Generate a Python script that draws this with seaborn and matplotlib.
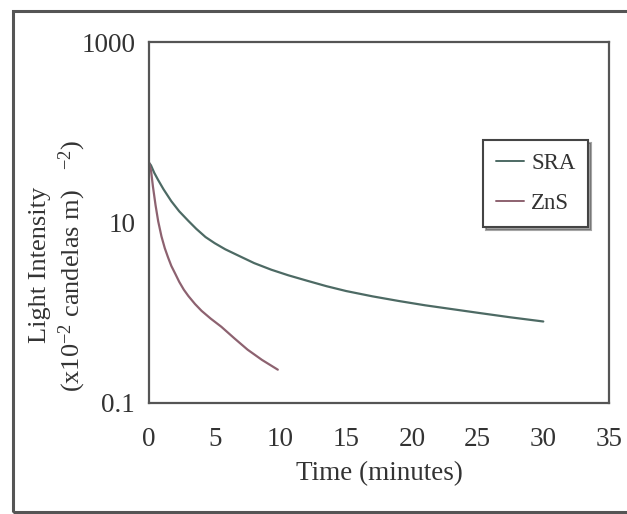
import numpy as np
import pandas as pd
import matplotlib
matplotlib.use("Agg")
import matplotlib.pyplot as plt
from matplotlib.patches import Rectangle
import seaborn as sns

# ---- data ----
sra_time = [0, 0.15, 0.4, 0.7, 1.1, 1.7, 2.3, 3.0, 3.6, 4.3, 5.0, 5.8, 6.8, 8.0, 9.3, 10.6,
            12.0, 13.5, 15.0, 17.0, 19.0, 21.0, 23.0, 25.0, 27.5, 30.0]
sra_value = [46, 43, 35.5, 29.5, 23.4, 17.2, 13.3, 10.4, 8.5, 6.9, 5.9, 5.05, 4.3, 3.55, 3.0, 2.6,
             2.27, 1.97, 1.74, 1.52, 1.35, 1.21, 1.10, 1.0, 0.89, 0.80]
zns_time = [0, 0.15, 0.3, 0.5, 0.7, 0.95, 1.2, 1.45, 1.7, 2.0, 2.3, 2.65, 3.0, 3.5, 4.0,
            4.7, 5.5, 6.5, 7.5, 8.6, 9.8]
zns_value = [46, 38, 25, 15.5, 10.3, 7.0, 5.2, 4.1, 3.3, 2.7, 2.2, 1.8, 1.53, 1.25, 1.05,
             0.86, 0.70, 0.52, 0.39, 0.30, 0.234]
series_names = ["SRA", "ZnS"]
x_ticks = [0, 5, 10, 15, 20, 25, 30, 35]
y_ticks = [0.1, 10, 1000]
y_tick_labels = ["0.1", "10", "1000"]

df = pd.concat([
    pd.DataFrame({"Time": sra_time, "Intensity": sra_value, "Series": series_names[0]}),
    pd.DataFrame({"Time": zns_time, "Intensity": zns_value, "Series": series_names[1]}),
])

sns.set_theme(style="white")
plt.rcParams["font.family"] = ["Liberation Serif", "DejaVu Serif"]
plt.rcParams["mathtext.fontset"] = "custom"
plt.rcParams["mathtext.rm"] = "Liberation Serif"
plt.rcParams["mathtext.it"] = "Liberation Serif:italic"
plt.rcParams["mathtext.bf"] = "Liberation Serif:bold"
plt.rcParams["lines.solid_joinstyle"] = "round"

W, H = 627, 514
fig = plt.figure(figsize=(W / 100, H / 100), dpi=100)
fig.patch.set_facecolor("white")
ax = fig.add_axes([149 / W, 1 - 403 / H, (609 - 149) / W, (403 - 42) / H])

palette = {"SRA": "#4d6a64", "ZnS": "#8d6270"}
sns.lineplot(data=df, x="Time", y="Intensity", hue="Series", palette=palette,
             linewidth=1.6, ax=ax, legend=True, sort=False, estimator=None)

ax.set_yscale("log")
ax.set_xlim(0, 35)
ax.set_ylim(0.1, 1000)
ax.set_xticks(x_ticks)
ax.set_xticklabels([str(t) for t in x_ticks])
ax.set_yticks(y_ticks)
ax.set_yticklabels(y_tick_labels)
ax.minorticks_off()
ax.tick_params(axis="both", length=0, labelsize=19.5, colors="#333333")
ax.tick_params(axis="x", pad=17)
ax.tick_params(axis="y", pad=10)
for s in ax.spines.values():
    s.set_linewidth(1.6)
    s.set_color("#555555")
ax.set_xlabel("Time (minutes)", fontsize=19.5, color="#333333", labelpad=7)
ax.set_ylabel("")

fig.text(40 / W, 1 - 265 / H, "Light Intensity", rotation=90, ha="center", va="center",
         fontsize=19, color="#333333")
fig.text(72 / W, 1 - 266 / H, r"(x10$^{-2}$ candelas m)   $^{-2}$)", rotation=90,
         ha="center", va="center", fontsize=19, color="#333333")

leg = ax.legend(loc="upper left", bbox_to_anchor=((483 - 149) / (609 - 149), 1 - (140 - 42) / (403 - 42)),
                fontsize=16.5, frameon=True, fancybox=False, shadow=True,
                handlelength=1.25, handletextpad=0.3, labelspacing=0.85,
                borderpad=0.55, borderaxespad=0)
leg.get_frame().set_edgecolor("#444444")
leg.get_frame().set_linewidth(1.5)
for t in leg.get_texts():
    t.set_color("#333333")
for l in leg.get_lines():
    l.set_linewidth(1.4)

fig.patches.append(Rectangle((13 / W, 1 - 512 / H), 1.2, (512 - 11) / H,
                             transform=fig.transFigure, fill=False,
                             edgecolor="#555555", linewidth=2.2, clip_on=False))

fig.savefig("out.png", dpi=100)
